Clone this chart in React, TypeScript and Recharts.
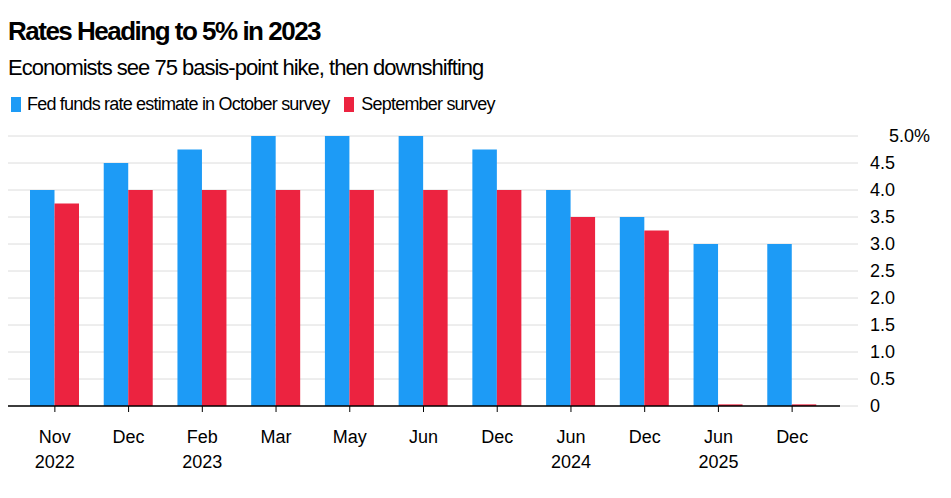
import { Bar, BarChart, CartesianGrid, XAxis, YAxis } from "recharts";

const months = ["Nov", "Dec", "Feb", "Mar", "May", "Jun", "Dec", "Jun", "Dec", "Jun", "Dec"];
const years = ["2022", "", "2023", "", "", "", "", "2024", "", "2025", ""];
const october = [4.0, 4.5, 4.75, 5.0, 5.0, 5.0, 4.75, 4.0, 3.5, 3.0, 3.0];
const september = [3.75, 4.0, 4.0, 4.0, 4.0, 4.0, 4.0, 3.5, 3.25, 0.03, 0.03];
const yTicks = [0, 0.5, 1, 1.5, 2, 2.5, 3, 3.5, 4, 4.5, 5];

const BLUE = "#1d9bf6";
const RED = "#ec2340";
const FONT = "'Liberation Sans', Arial, sans-serif";

const data = months.map((m, i) => ({
  key: i,
  month: m,
  year: years[i],
  october: october[i],
  september: september[i],
}));

function MonthTick({ x, y, payload }: any) {
  const d = data[payload.value];
  return (
    <g>
      <text x={x} y={y + 29} textAnchor="middle" fontSize={18} fill="#000" fontFamily={FONT}>
        {d.month}
      </text>
      {d.year && (
        <text x={x} y={y + 54} textAnchor="middle" fontSize={18} fill="#000" fontFamily={FONT}>
          {d.year}
        </text>
      )}
    </g>
  );
}

function RateTick({ x, y, payload }: any) {
  const v = payload.value;
  const label = v === 0 ? "0" : v === 5 ? "5.0%" : v.toFixed(1);
  return (
    <text x={x + (v === 5 ? 19 : 0)} y={y + 6} fontSize={18} fill="#000" fontFamily={FONT}>
      {label}
    </text>
  );
}

export default function App() {
  return (
    <div style={{ position: "absolute", left: 0, top: 0, width: 951, height: 498, background: "#fff", fontFamily: FONT }}>
      <div style={{ position: "absolute", left: 8, top: 16, fontSize: 26, fontWeight: 700, letterSpacing: -1.5, color: "#000" }}>
        Rates Heading to 5% in 2023
      </div>
      <div style={{ position: "absolute", left: 8, top: 55, fontSize: 22, letterSpacing: -1, color: "#000" }}>
        Economists see 75 basis-point hike, then downshifting
      </div>
      <div style={{ position: "absolute", left: 11, top: 94, fontSize: 18, letterSpacing: -0.8, color: "#000", display: "flex", alignItems: "center" }}>
        <span style={{ width: 10, height: 15, background: BLUE, display: "inline-block", marginRight: 6 }} />
        <span>Fed funds rate estimate in October survey</span>
        <span style={{ width: 10, height: 15, background: RED, display: "inline-block", marginLeft: 15, marginRight: 7 }} />
        <span>September survey</span>
      </div>
      <div style={{ position: "absolute", left: 0, top: 0 }}>
        <BarChart
          width={951}
          height={498}
          data={data}
          margin={{ top: 136, right: 11, bottom: 32, left: 8 }}
          barSize={24.5}
          barGap={0}
        >
          <CartesianGrid stroke="#dcdcdc" vertical={false} />
          <XAxis
            dataKey="key"
            tick={<MonthTick />}
            tickLine={{ stroke: "#000" }}
            tickSize={6}
            axisLine={{ stroke: "#000", strokeWidth: 1.5 }}
            padding={{ left: 10, right: 11 }}
            height={60}
            interval={0}
          />
          <YAxis
            orientation="right"
            domain={[0, 5]}
            ticks={yTicks}
            tick={<RateTick />}
            tickLine={{ stroke: "#dcdcdc" }}
            tickSize={18}
            tickMargin={12}
            axisLine={false}
            width={100}
            interval={0}
          />
          <Bar dataKey="october" fill={BLUE} isAnimationActive={false} />
          <Bar dataKey="september" fill={RED} isAnimationActive={false} />
        </BarChart>
      </div>
    </div>
  );
}
